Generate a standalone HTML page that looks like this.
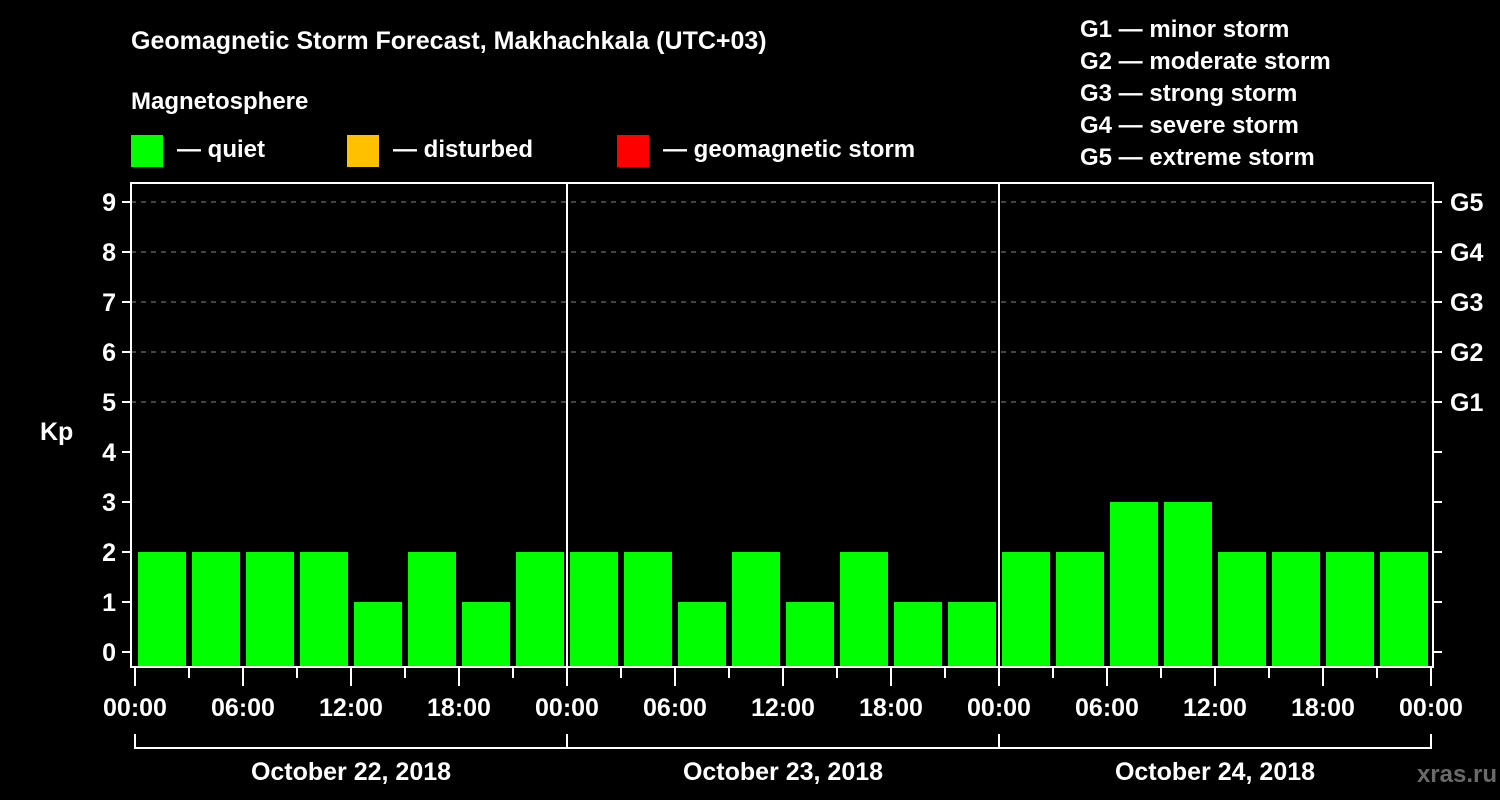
<!DOCTYPE html>
<html><head><meta charset="utf-8"><style>
html,body{margin:0;padding:0;background:#000;width:1500px;height:800px;overflow:hidden}
svg text{font-family:"Liberation Sans",Arial,sans-serif;font-weight:bold;fill:#fff}
</style></head><body>
<svg id="c" width="1500" height="800" xmlns="http://www.w3.org/2000/svg">
<text x="131" y="49" font-size="25">Geomagnetic Storm Forecast, Makhachkala (UTC+03)</text>
<text x="131" y="109" font-size="24">Magnetosphere</text>
<g><rect x="131" y="135" width="32" height="32" fill="#00ff00"/><text x="177" y="157" font-size="24">— quiet</text></g>
<g><rect x="347" y="135" width="32" height="32" fill="#ffc000"/><text x="393" y="157" font-size="24">— disturbed</text></g>
<g><rect x="617" y="135" width="32" height="32" fill="#ff0000"/><text x="663" y="157" font-size="24">— geomagnetic storm</text></g>
<g font-size="24">
<text x="1080" y="37">G1 — minor storm</text>
<text x="1080" y="69">G2 — moderate storm</text>
<text x="1080" y="101">G3 — strong storm</text>
<text x="1080" y="133">G4 — severe storm</text>
<text x="1080" y="165">G5 — extreme storm</text>
</g>
<text x="40" y="440" font-size="25">Kp</text>
<text x="1497" y="782" font-size="24" text-anchor="end" fill="#666" style="fill:#6a6a6a">xras.ru</text>
<g id="grid"></g><g id="bars"></g><g id="axes"></g>
</svg>
<script>
const kp=[2,2,2,2,1,2,1,2, 2,2,1,2,1,2,1,1, 2,2,3,3,2,2,2,2];
const yTicks=[0,1,2,3,4,5,6,7,8,9];
const gLabels=["G1","G2","G3","G4","G5"];
const gLevels=[5,6,7,8,9];
const xTickLabels=["00:00","06:00","12:00","18:00","00:00","06:00","12:00","18:00","00:00","06:00","12:00","18:00","00:00"];
const days=["October 22, 2018","October 23, 2018","October 24, 2018"];
const NS="http://www.w3.org/2000/svg";
const X0=135,X1=1431,PL=131,PR=1433,PT=183,PB=667;
const xs=i=>X0+(X1-X0)*i/kp.length; // i in 3h slots
const ys=v=>652-50*v;
function mk(p,t,a){const e=document.createElementNS(NS,t);for(const k in a)e.setAttribute(k,a[k]);p.appendChild(e);return e;}
const grid=document.getElementById('grid'),bars=document.getElementById('bars'),axes=document.getElementById('axes');
gLevels.forEach((v,i)=>{
 const l=mk(grid,'line',{x1:PL,x2:PR,y1:ys(v),y2:ys(v),stroke:'#888','stroke-dasharray':'5,5','stroke-width':1});
 
 
});
kp.forEach((v,i)=>{
 const c=v>=5?'#ff0000':(v>=4?'#ffc000':'#00ff00');
 const r=mk(bars,'rect',{x:xs(i)+3,y:ys(v),width:(X1-X0)/kp.length-6,height:PB-ys(v),fill:c});
 
 
});
const fr=mk(axes,'rect',{x:PL,y:PT,width:PR-PL,height:PB-PT,fill:'none',stroke:'#fff','stroke-width':2});


[1,2].forEach(d=>{const l=mk(axes,'line',{x1:xs(d*8),x2:xs(d*8),y1:PT,y2:PB,stroke:'#fff','stroke-width':2});
 
 });
yTicks.forEach(v=>{
 mk(axes,'line',{x1:122,x2:PL,y1:ys(v),y2:ys(v),stroke:'#fff','stroke-width':2});
 mk(axes,'line',{x1:PR,x2:1442,y1:ys(v),y2:ys(v),stroke:'#fff','stroke-width':2});
 const t=mk(axes,'text',{x:116,y:ys(v)+9,'font-size':25,'text-anchor':'end'});t.textContent=v;
 
 
});
gLabels.forEach((g,i)=>{const t=mk(axes,'text',{x:1450,y:ys(gLevels[i])+9,'font-size':25});t.textContent=g;
 
 });
for(let i=0;i<=kp.length;i++){
 const major=i%2===0;
 mk(axes,'line',{x1:xs(i),x2:xs(i),y1:PB,y2:major?686:678,stroke:'#fff','stroke-width':2});
}
xTickLabels.forEach((s,i)=>{const t=mk(axes,'text',{x:xs(i*2),y:716,'font-size':25,'text-anchor':'middle'});t.textContent=s;
 
 });
mk(axes,'line',{x1:X0,x2:X1,y1:748,y2:748,stroke:'#fff','stroke-width':2});
for(let d=0;d<=days.length;d++)mk(axes,'line',{x1:xs(d*8),x2:xs(d*8),y1:734,y2:749,stroke:'#fff','stroke-width':2});
days.forEach((s,d)=>{const t=mk(axes,'text',{x:(xs(d*8)+xs(d*8+8))/2,y:780,'font-size':25,'text-anchor':'middle'});t.textContent=s;
 
 });
</script>
</body></html>
